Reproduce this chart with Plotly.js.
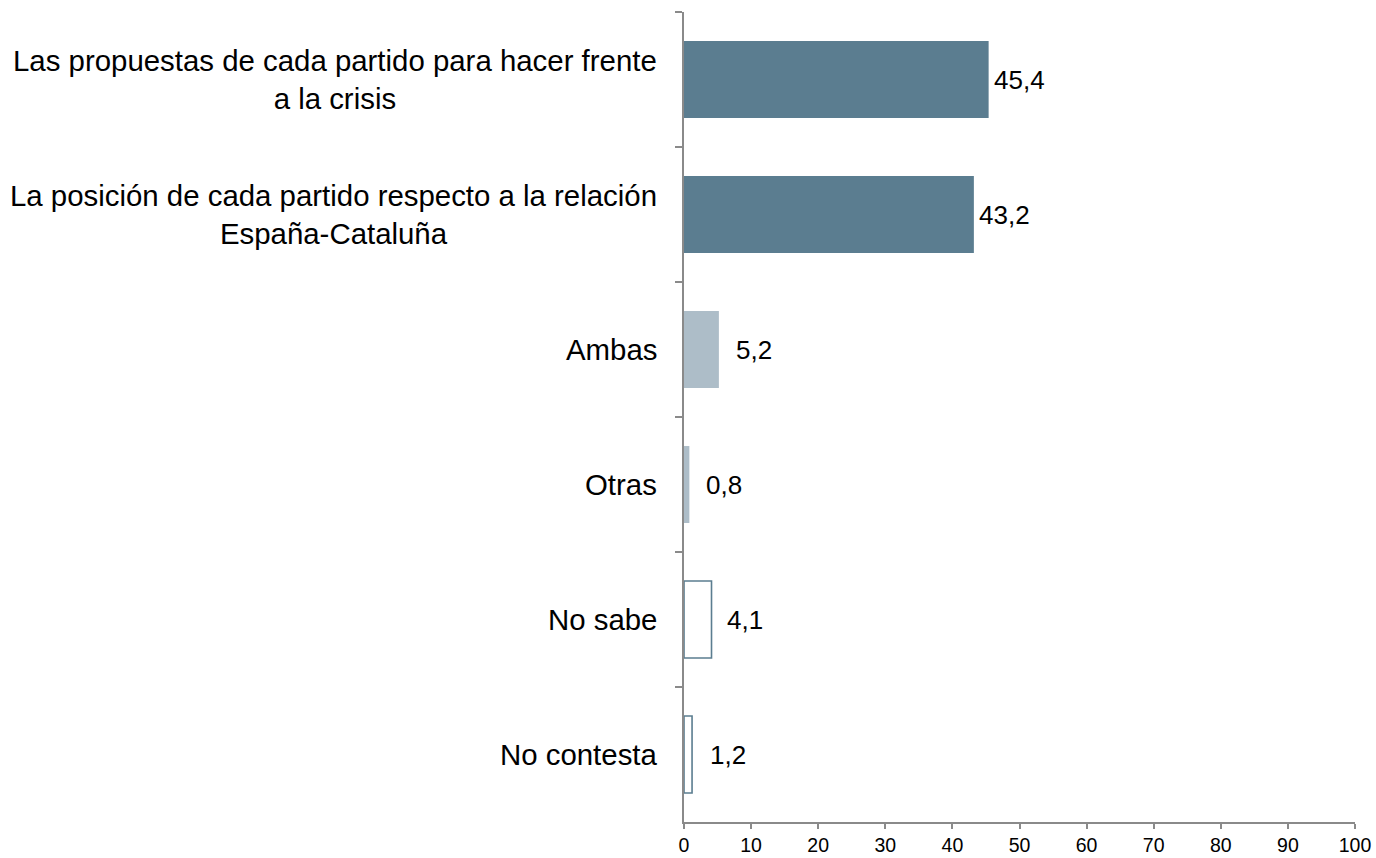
<!DOCTYPE html>
<html>
<head>
<meta charset="utf-8">
<script src="https://cdn.plot.ly/plotly-3.0.1.min.js"></script>
<style>html,body{margin:0;padding:0;background:#fff;}#chart{width:1376px;height:858px;}</style>
</head>
<body>
<div id="chart"></div>
<script>
const categories = [
  "Las propuestas de cada partido para hacer frente<br>a la crisis",
  "La posición de cada partido respecto a la relación<br>España-Cataluña",
  "Ambas",
  "Otras",
  "No sabe",
  "No contesta"
];
const values = [45.4, 43.2, 5.2, 0.8, 4.1, 1.2];
const xTickValues = [0, 10, 20, 30, 40, 50, 60, 70, 80, 90, 100];

const dark = "#5b7d90";
const light = "#adbdc8";
const fillColors = [dark, dark, light, light, "#ffffff", "#ffffff"];
const lineColors = [dark, dark, light, light, dark, dark];
const lineWidths = [0, 0, 0, 0, 1.6, 1.6];
const labelShift = [4, 4, 16, 16, 14, 17];

const FONT = "Liberation Sans, Arial, sans-serif";

const trace = {
  type: "bar",
  orientation: "h",
  x: values,
  y: categories,
  marker: { color: fillColors, line: { color: lineColors, width: lineWidths } },
  hoverinfo: "none"
};

const valueLabels = values.map((v, i) => ({
  x: v, y: categories[i], xref: "x", yref: "y",
  text: v.toFixed(1).replace(".", ","),
  showarrow: false, xanchor: "left", yanchor: "middle",
  xshift: labelShift[i], borderpad: 0,
  font: { size: 26, color: "#000", family: FONT }
}));

const categoryLabels = categories.map((c) => ({
  x: 0, y: c, xref: "paper", yref: "y",
  text: c, align: "center",
  showarrow: false, xanchor: "right", yanchor: "middle",
  xshift: -26, borderpad: 0,
  font: { size: 29.4, color: "#000", family: FONT }
}));

const layout = {
  width: 1376, height: 858,
  margin: { l: 684, r: 21, t: 12, b: 36, pad: 0 },
  paper_bgcolor: "#fff", plot_bgcolor: "#fff",
  font: { family: FONT, color: "#000" },
  showlegend: false,
  bargap: 0.43,
  xaxis: {
    range: [0, 100], tickvals: xTickValues, ticktext: xTickValues.map(String),
    showgrid: false, zeroline: false,
    showline: true, linecolor: "#8a8a8a", linewidth: 2,
    ticks: "outside", ticklen: 5, tickwidth: 2, tickcolor: "#8a8a8a",
    tickfont: { size: 19.5, color: "#000" }, fixedrange: true
  },
  yaxis: {
    type: "category", range: [5.5, -0.5],
    tickson: "boundaries",
    showgrid: false, zeroline: false,
    showline: true, linecolor: "#8a8a8a", linewidth: 2,
    ticks: "outside", ticklen: 7, tickwidth: 2, tickcolor: "#8a8a8a",
    showticklabels: false, fixedrange: true
  },
  annotations: valueLabels.concat(categoryLabels)
};

Plotly.newPlot("chart", [trace], layout, { displayModeBar: false, staticPlot: true });
</script>
</body>
</html>
